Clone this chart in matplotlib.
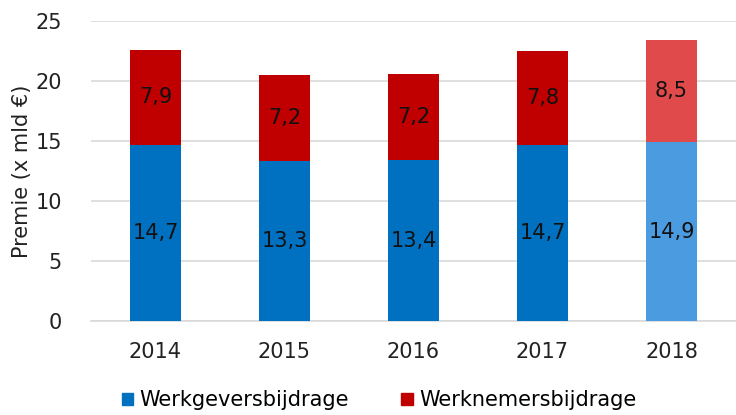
import matplotlib
matplotlib.use("Agg")
import matplotlib.pyplot as plt
from matplotlib.patches import Patch

years = ["2014", "2015", "2016", "2017", "2018"]
werkgever = [14.7, 13.3, 13.4, 14.7, 14.9]
werknemer = [7.9, 7.2, 7.2, 7.8, 8.5]
labels_wg = ["14,7", "13,3", "13,4", "14,7", "14,9"]
labels_wn = ["7,9", "7,2", "7,2", "7,8", "8,5"]

blue, red = "#0070C0", "#C00000"
blue_l, red_l = "#4A9BDF", "#E04A4A"
wg_colors = [blue] * 4 + [blue_l]
wn_colors = [red] * 4 + [red_l]

FS = 15
plt.rcParams['font.family'] = ['DejaVu Sans']
fig = plt.figure(figsize=(7.36, 4.15), dpi=100)
ax = fig.add_axes([0.1236, 0.2265, 0.8764, 0.7225])

x = list(range(len(years)))
w = 0.4
ax.bar(x, werkgever, width=w, color=wg_colors, zorder=3)
ax.bar(x, werknemer, width=w, bottom=werkgever, color=wn_colors, zorder=3)
for i in x:
    ax.text(i, werkgever[i] / 2, labels_wg[i], ha='center', va='center', fontsize=FS, color='#111111', zorder=4)
    ax.text(i, werkgever[i] + werknemer[i] / 2, labels_wn[i], ha='center', va='center', fontsize=FS, color='#111111', zorder=4)

ax.set_xlim(-0.5, 4.5)
ax.set_ylim(0, 25)
ax.set_yticks([0, 5, 10, 15, 20, 25])
ax.set_xticks(x)
ax.set_xticklabels(years)
ax.yaxis.grid(True, color='#D9D9D9', linewidth=1.2, zorder=0)
for s in ['top', 'right', 'left']:
    ax.spines[s].set_visible(False)
ax.spines['bottom'].set_color('#D9D9D9')
ax.spines['bottom'].set_linewidth(1.2)
ax.tick_params(axis='both', length=0, labelsize=FS, colors='#222222')
ax.tick_params(axis='y', pad=21)
ax.tick_params(axis='x', pad=15)
ax.set_ylabel("Premie (x mld €)", fontsize=FS, color='#222222')
ax.yaxis.set_label_coords(-0.092, 0.5)

handles = [Patch(color=blue, label="Werkgeversbijdrage"), Patch(color=red, label="Werknemersbijdrage")]
fig.legend(handles=handles, loc='center', bbox_to_anchor=(0.515, 0.035), ncol=2, frameon=False,
           fontsize=FS, handlelength=0.55, handleheight=0.55, handletextpad=0.3, columnspacing=2.5)

fig.savefig("out.png", dpi=100)
